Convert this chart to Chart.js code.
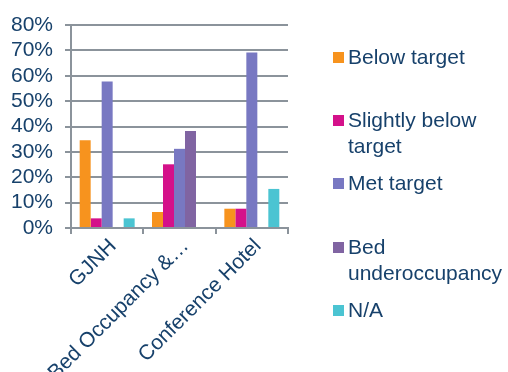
<!DOCTYPE html>
<html>
<head>
<meta charset="utf-8">
<script src="https://cdn.jsdelivr.net/npm/chart.js@4/dist/chart.umd.min.js"></script>
<style>
  body { margin: 0; background: #fff; }
  #wrap { position: relative; width: 508px; height: 372px; overflow: hidden; }
  #legend { position: absolute; left: 333px; top: 0; font-family: "Liberation Sans", Arial, sans-serif; font-size: 21px; color: #17416b; }
  .item { position: absolute; left: 0; white-space: nowrap; line-height: 26px; }
  .box { position: absolute; left: 0; top: 8px; width: 11px; height: 11px; }
  .txt { position: absolute; left: 15px; top: 0; }
</style>
</head>
<body>
<div id="wrap">
  <canvas id="myChart" width="508" height="372"></canvas>
  <div id="legend"></div>
</div>
<script>
// categories and series
const categories = ["GJNH", "Bed Occupancy &…", "Conference Hotel"];
const seriesNames = ["Below target", "Slightly below target", "Met target", "Bed underoccupancy", "N/A"];
const legendLines = [["Below target"], ["Slightly below", "target"], ["Met target"], ["Bed", "underoccupancy"], ["N/A"]];
const seriesColors = ["#f7931e", "#d4118a", "#7878c2", "#8064a2", "#4bc4d2"];

const belowTarget = [34.6, 6.3, 7.6];
const slightlyBelow = [3.8, 25.1, 7.6];
const metTarget = [57.7, 31.2, 69.2];
const bedUnder = [0, 38.2, 0];
const notApplicable = [3.8, 0, 15.4];

const yTicks = [0, 10, 20, 30, 40, 50, 60, 70, 80];

const allValues = [belowTarget, slightlyBelow, metTarget, bedUnder, notApplicable];

const textColor = "#17416b";
const gridColor = "#8b939b";

const datasets = seriesNames.map(function (name, i) {
  return {
    label: name,
    data: allValues[i],
    backgroundColor: seriesColors[i],
    barPercentage: 1,
    categoryPercentage: 0.76,
  };
});

const ctx = document.getElementById("myChart").getContext("2d");
let barChart = new Chart(ctx, {
  type: "bar",
  data: { labels: categories, datasets: datasets },
  options: {
    responsive: false,
    animation: false,
    layout: { padding: { left: 0, right: 220, top: 25, bottom: 0 } },
    plugins: { legend: { display: false }, tooltip: { enabled: false } },
    scales: {
      x: {
        grid: { drawOnChartArea: false, color: gridColor, lineWidth: 2, tickLength: 6 },
        border: { color: gridColor, width: 2 },
        ticks: {
          color: textColor,
          font: { family: "Liberation Sans", size: 21 },
          minRotation: 45,
          maxRotation: 45,
          padding: 0,
          labelOffset: 6,
          autoSkip: false,
        },
        afterFit: function (scale) { scale.height = 144; },
      },
      y: {
        min: 0,
        max: 80,
        afterBuildTicks: function (scale) {
          scale.ticks = yTicks.map(function (v) { return { value: v }; });
        },
        afterFit: function (scale) { scale.width = 71; },
        grid: { color: gridColor, lineWidth: 2, tickLength: 6 },
        border: { color: gridColor, width: 2 },
        ticks: {
          color: textColor,
          font: { family: "Liberation Sans", size: 21 },
          padding: 12,
          autoSkip: false,
          callback: function (v) { return v + "%"; },
        },
      },
    },
  },
});

// legend on the right
const legendTops = [44, 107, 170, 234, 297];
const legend = document.getElementById("legend");
seriesNames.forEach(function (name, i) {
  const item = document.createElement("div");
  item.className = "item";
  item.style.top = legendTops[i] + "px";
  item.innerHTML = '<span class="box" style="background:' + seriesColors[i] + '"></span>' +
    '<span class="txt">' + legendLines[i].join("<br>") + "</span>";
  legend.appendChild(item);
});
</script>
</body>
</html>
